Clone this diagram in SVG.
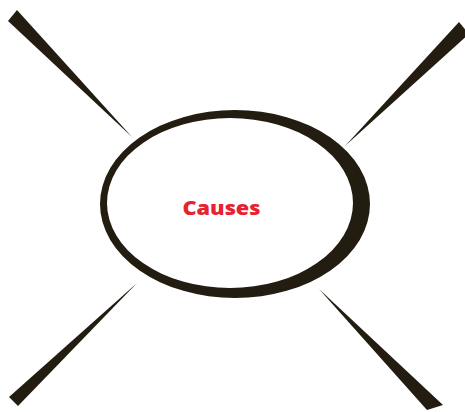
<svg xmlns="http://www.w3.org/2000/svg" width="465" height="412" viewBox="0 0 465 412">
<style>
.ink{fill:#231c10;}
.lbl{font-family:"Open Sans","Liberation Sans",sans-serif;font-weight:800;font-size:20px;fill:#e8202f;text-anchor:middle;}
</style>
<rect width="465" height="412" fill="#ffffff"/>
<g id="spikes">
<polygon class="ink" points="8,21 17,10 132,137"/>
<polygon class="ink" points="459,22 469,34 345,146"/>
<polygon class="ink" points="9,397 18,406 137,283"/>
<polygon class="ink" points="427,410 443,405 319,289"/>
</g>
<g id="causes">
<path class="ink" fill-rule="evenodd" d="M100,204 a135,94 0 1,0 270,0 a135,94 0 1,0 -270,0 Z M107,203 a123,85 0 1,0 246,0 a123,85 0 1,0 -246,0 Z"/>
<text class="lbl" x="221.5" y="214.5" textLength="78" lengthAdjust="spacingAndGlyphs">Causes</text>
</g>
</svg>
